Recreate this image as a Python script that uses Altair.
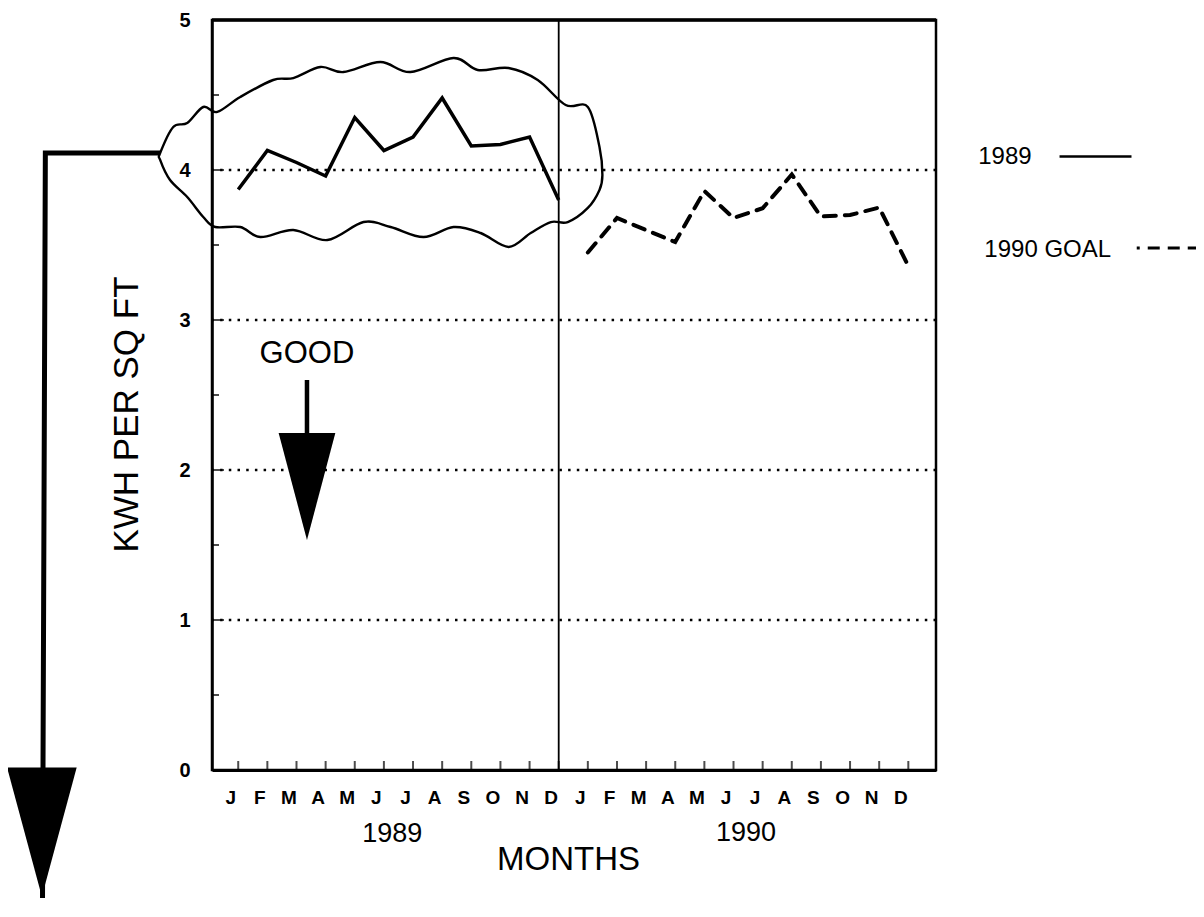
import altair as alt
import pandas as pd

FONT = "Liberation Sans"

# ---- data ----
months = ["J", "F", "M", "A", "M", "J", "J", "A", "S", "O", "N", "D"]
kwh_1989 = [3.87, 4.13, 4.05, 3.96, 4.35, 4.13, 4.22, 4.48, 4.16, 4.17, 4.22, 3.80]
goal_1990 = [3.45, 3.68, 3.60, 3.52, 3.86, 3.68, 3.745, 3.97, 3.69, 3.70, 3.75, 3.36]
y_label_values = [0, 1, 2, 3, 4, 5]
grid_values = [1, 2, 3, 4]
major_ticks = [1, 2, 3, 4]
minor_ticks = [0.5, 1.5, 2.5, 3.5, 4.5]

# hand-drawn "cloud" around the 1989 line (month index, kWh)
cloud_x = [-2.68, -2.23, -1.75, -1.20, -0.72, 0.07, 1.20, 1.89, 2.82, 3.61, 4.88, 5.91,
           7.39, 8.22, 9.28, 10.28, 11.24, 12.00, 12.40, 12.50, 12.40, 12.00, 11.31,
           10.73, 10.04, 9.28, 8.32, 7.39, 6.36, 5.23, 4.30, 3.06, 1.89, 0.76, 0.07,
           -0.79, -1.20, -1.75, -2.34, -2.68]
cloud_y = [4.113, 4.287, 4.313, 4.42, 4.387, 4.487, 4.60, 4.613, 4.687, 4.653, 4.72, 4.653,
           4.747, 4.667, 4.68, 4.60, 4.433, 4.42, 4.153, 3.967, 3.867, 3.747, 3.653,
           3.653, 3.58, 3.487, 3.58, 3.62, 3.553, 3.62, 3.653, 3.533, 3.60, 3.553, 3.62,
           3.62, 3.687, 3.82, 3.933, 4.067]

# connector from the cloud to the big arrow
conn_x = [-2.68, -6.62, -6.72]
conn_y = [4.113, 4.113, -0.99]
big_arrow_x = [-6.74]
big_arrow_y = [-0.413]

good_x = [2.36]
good_text_y = [2.773]
good_shaft_y = [2.60, 2.20]
good_head_y = [1.89]

legend_text_x = [25.40, 25.61]
legend_text_y = [4.087, 3.467]
legend_labels = ["1989", "1990 GOAL"]
legend_line_x = [28.19, 30.66]
legend_line_y = [4.09]
legend_dash_x = [30.84, 33.25]
legend_dash_y = [3.48]

year_text_x = [5.29, 17.43]
year_text_y = [-0.427, -0.42]
year_labels = ["1989", "1990"]
months_title_xy = [11.34, -0.60]
y_title_xy = [-3.81, 2.37]

divider_month = [11]

# ---- tables ----
n = len(months)
df89 = pd.DataFrame({"m": list(range(n)), "v": kwh_1989})
df90 = pd.DataFrame({"m": list(range(n, 2 * n)), "v": goal_1990})
df_cloud = pd.DataFrame({"x": cloud_x, "y": cloud_y, "o": list(range(len(cloud_x)))})
df_conn = pd.DataFrame({"x": conn_x, "y": conn_y, "o": list(range(len(conn_x)))})

xs = alt.Scale(domain=[-0.9, 23.95], nice=False, zero=False)
ys = alt.Scale(domain=[0, 5], nice=False, zero=False)

label_expr = "[" + ",".join("'%s'" % m for m in months + months) + "][datum.value]"

x_axis = alt.Axis(
    values=list(range(2 * n)), labelExpr=label_expr, tickSize=0, domainWidth=3,
    domainColor="black", labelPadding=18, labelFontSize=19, labelFont=FONT,
    labelFontWeight="bold", labelColor="black", labelOffset=-8, labelOverlap=False,
    labelFlush=False, title=None, grid=False, labelAngle=0)
y_axis = alt.Axis(
    values=y_label_values, tickSize=0, domainWidth=2.5, domainColor="black",
    labelPadding=22, labelFontSize=20, labelFont=FONT, labelFontWeight="bold",
    labelColor="black", title=None, grid=False, labelFlush=False)

def X(f):
    return alt.X(f, type="quantitative", scale=xs, axis=x_axis)

def Y(f):
    return alt.Y(f, type="quantitative", scale=ys, axis=y_axis)

line89 = alt.Chart(df89).mark_line(color="black", strokeWidth=3.5, strokeJoin="miter").encode(
    x=X("m"), y=Y("v"))

line90 = alt.Chart(df90).mark_line(color="black", strokeWidth=4, strokeDash=[12, 9], strokeCap="round").encode(
    x=X("m"), y=Y("v"))

grid = alt.Chart(pd.DataFrame({"v": grid_values})).mark_rule(
    color="black", strokeWidth=2.5, strokeDash=[2.5, 6.2]).encode(y=Y("v"))

top_border = alt.Chart(pd.DataFrame({"v": [5]})).mark_rule(color="black", strokeWidth=3.5).encode(y=Y("v"))

divider = alt.Chart(pd.DataFrame({"m": divider_month})).mark_rule(color="black", strokeWidth=1.8).encode(x=X("m"))

ticks_major = alt.Chart(pd.DataFrame({"v": major_ticks})).mark_tick(
    color="black", thickness=2, size=12).encode(y=Y("v"), x=alt.value(6))
ticks_minor = alt.Chart(pd.DataFrame({"v": minor_ticks})).mark_tick(
    color="black", thickness=2, size=7).encode(y=Y("v"), x=alt.value(3.5))
ticks_bottom = alt.Chart(pd.DataFrame({"m": list(range(2 * n))})).mark_tick(
    color="black", thickness=2, size=9, orient="vertical").encode(x=X("m"), y=alt.value(745.5))

cloud = alt.Chart(df_cloud).mark_line(
    color="black", strokeWidth=2.4, interpolate="cardinal-closed").encode(
    x=X("x"), y=Y("y"), order="o:Q")

conn = alt.Chart(df_conn).mark_line(color="black", strokeWidth=5).encode(
    x=X("x"), y=Y("y"), order="o:Q")

big_arrow = alt.Chart(pd.DataFrame({"x": big_arrow_x, "y": big_arrow_y})).mark_point(
    shape="M-0.54,-1L0.54,-1L0,1Z", filled=True, size=129 * 129, color="black", opacity=1,
    strokeWidth=0).encode(x=X("x"), y=Y("y"))

good_text = alt.Chart(pd.DataFrame({"x": good_x, "y": good_text_y, "t": ["GOOD"]})).mark_text(
    font=FONT, fontSize=31, color="black", baseline="middle", align="center").encode(
    x=X("x"), y=Y("y"), text="t:N")
good_shaft = alt.Chart(pd.DataFrame({"x": good_x * 2, "y": good_shaft_y})).mark_line(
    color="black", strokeWidth=4.5).encode(x=X("x"), y=Y("y"))
good_head = alt.Chart(pd.DataFrame({"x": good_x, "y": good_head_y})).mark_point(
    shape="M-0.53,-1L0.53,-1L0,1Z", filled=True, size=107 * 107, color="black", opacity=1,
    strokeWidth=0).encode(x=X("x"), y=Y("y"))

legend_text = alt.Chart(pd.DataFrame({"x": legend_text_x, "y": legend_text_y, "t": legend_labels})).mark_text(
    font=FONT, fontSize=24, color="black", baseline="middle", align="left").encode(
    x=X("x"), y=Y("y"), text="t:N")
legend_solid = alt.Chart(pd.DataFrame({"x": legend_line_x, "y": legend_line_y * 2})).mark_line(
    color="black", strokeWidth=2.5).encode(x=X("x"), y=Y("y"))
legend_dash = alt.Chart(pd.DataFrame({"x": legend_dash_x, "y": legend_dash_y * 2})).mark_line(
    color="black", strokeWidth=3, strokeDash=[3, 8, 12, 8, 12, 8, 12, 8]).encode(x=X("x"), y=Y("y"))

year_text = alt.Chart(pd.DataFrame({"x": year_text_x, "y": year_text_y, "t": year_labels})).mark_text(
    font=FONT, fontSize=27, color="black", baseline="middle", align="center").encode(
    x=X("x"), y=Y("y"), text="t:N")
months_title = alt.Chart(pd.DataFrame({"x": [months_title_xy[0]], "y": [months_title_xy[1]], "t": ["MONTHS"]})).mark_text(
    font=FONT, fontSize=33, color="black", baseline="middle", align="center").encode(
    x=X("x"), y=Y("y"), text="t:N")
y_title = alt.Chart(pd.DataFrame({"x": [y_title_xy[0]], "y": [y_title_xy[1]], "t": ["KWH PER SQ FT"]})).mark_text(
    font=FONT, fontSize=35, color="black", baseline="middle", align="center", angle=270).encode(
    x=X("x"), y=Y("y"), text="t:N")

chart = alt.layer(
    grid, line89, line90, cloud, conn, big_arrow, top_border, divider,
    ticks_major, ticks_minor, ticks_bottom, good_text, good_shaft, good_head,
    legend_text, legend_solid, legend_dash, year_text, months_title, y_title,
).properties(
    width=724, height=750,
    autosize=alt.AutoSizeParams(type="none"),
    padding={"left": 204, "top": 12, "right": 260, "bottom": 128},
    background="white",
).configure_view(stroke="black", strokeWidth=2.5)

chart.save("out.html", embed_options={"renderer": "svg", "actions": False})
